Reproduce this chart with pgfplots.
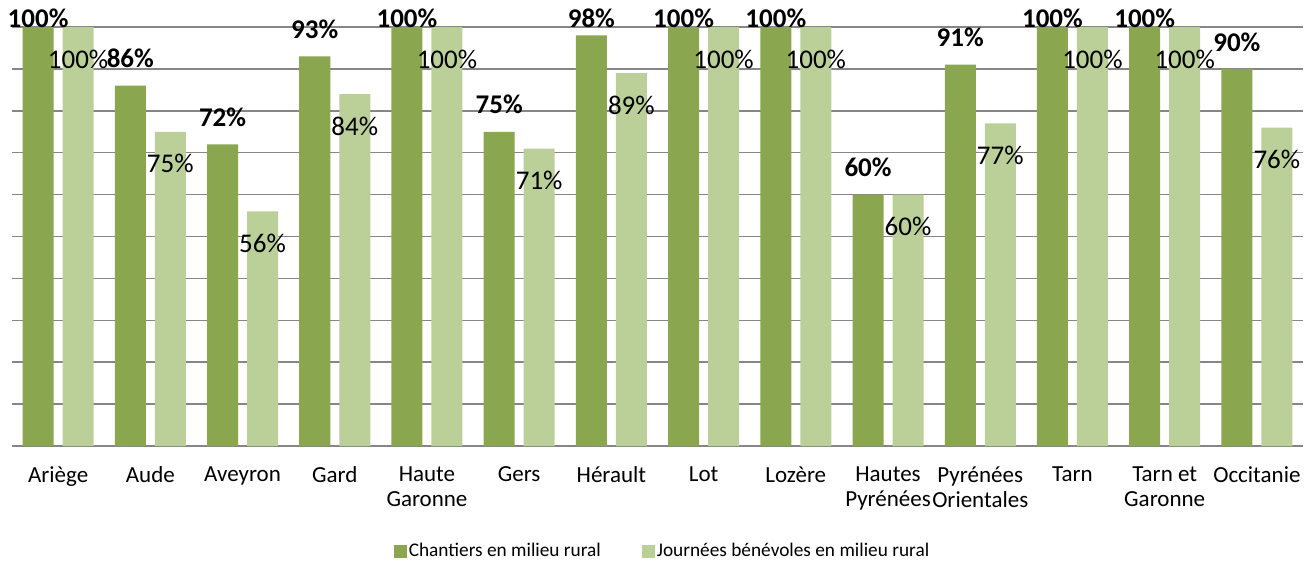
\documentclass[border=0pt]{standalone}
\usepackage{fontspec}
\setmainfont{Carlito}
\usepackage{pgfplots}
\pgfplotsset{compat=1.18}
\definecolor{darkg}{RGB}{138,166,79}
\definecolor{lightg}{RGB}{187,207,152}
\definecolor{gridg}{RGB}{134,134,134}
\newcommand\labfont{\fontsize{27}{32}\selectfont}
\newcommand\tickfont{\fontsize{23}{25}\selectfont}
\newcommand\legfont{\fontsize{19.3}{22}\selectfont}
\begin{document}
\begin{tikzpicture}
\begin{axis}[
  /pgf/number format/assume math mode=true,
  scale only axis, width=1291pt, height=419pt,
  xmin=-0.5, xmax=13.5, ymin=0, ymax=100,
  ybar, bar width=31pt,
  clip=false,
  axis lines=left,
  axis line style={draw=none},
  xtick={0,...,13},
  xticklabels={Ariège,Aude,Aveyron,Gard,{Haute\\Garonne},Gers,Hérault,Lot,Lozère,{Hautes\\Pyrénées},{Pyrénées\\Orientales},Tarn,{Tarn et\\Garonne},Occitanie},
  xticklabel style={align=center, font=\tickfont, anchor=north, yshift=-17pt},
  ytick={0,10,...,100},
  yticklabels={},
  major tick length=0pt,
  ymajorgrids,
  grid style={draw=gridg, line width=1.5pt},
  legend columns=2,
  legend style={at={(rel axis cs:0.5,0)}, anchor=center, xshift=5pt, yshift=-105pt, draw=none, font=\legfont,
    /tikz/every even column/.append style={column sep=40pt}, nodes={inner sep=1.5pt}},
  legend image code/.code={\fill[#1] (0pt,-6.5pt) rectangle (13pt,6.5pt);},
]
\addplot[fill=darkg, draw=none, bar shift=-20pt,
  nodes near coords={\pgfmathprintnumber[fixed,precision=0,assume math mode=true]{\pgfplotspointmeta}\%},
  visualization depends on={rawy \as \ry},
  every node near coord/.append style={font=\labfont\bfseries, anchor=center, inner sep=0pt, yshift={min(27,428-4.19*\ry)}}]
coordinates {(0,100) (1,86) (2,72) (3,93) (4,100) (5,75) (6,98) (7,100) (8,100) (9,60) (10,91) (11,100) (12,100) (13,90)};
\addlegendentry{Chantiers en milieu rural}
\addplot[fill=lightg, draw=none, bar shift=20pt,
  nodes near coords={\pgfmathprintnumber[fixed,precision=0,assume math mode=true]{\pgfplotspointmeta}\%},
  every node near coord/.append style={font=\labfont, anchor=center, inner sep=0pt, yshift=-32pt}]
coordinates {(0,100) (1,75) (2,56) (3,84) (4,100) (5,71) (6,89) (7,100) (8,100) (9,60) (10,77) (11,100) (12,100) (13,76)};
\addlegendentry{Journées bénévoles en milieu rural}
\end{axis}
\pgfresetboundingbox
\path (-12pt,-117pt) rectangle (1303pt,446pt);
\end{tikzpicture}
\end{document}
